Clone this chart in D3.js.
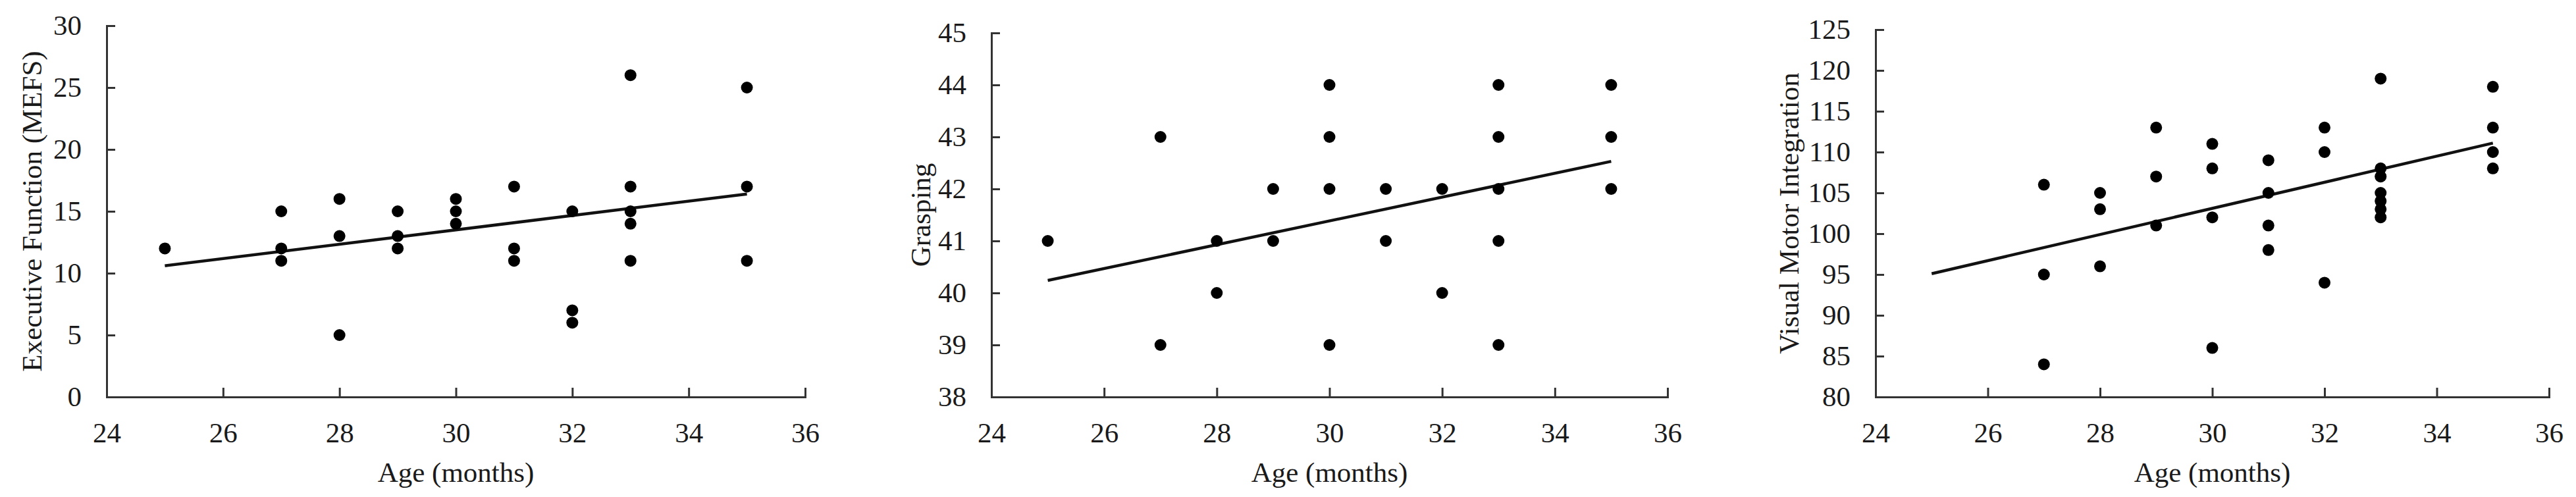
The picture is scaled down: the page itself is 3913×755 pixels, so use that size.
<!DOCTYPE html>
<html>
<head>
<meta charset="utf-8">
<script src="https://cdn.jsdelivr.net/npm/d3@7"></script>
<style>
  body { margin: 0; background: #fff; }
  svg text { font-family: "Liberation Serif", "Times New Roman", serif; fill: #1a1a1a; }
  .axis path, .axis line { stroke: #333; stroke-width: 3; }
  .fit { fill: none; stroke: #111; stroke-width: 4.5; }
</style>
</head>
<body>
<div id="chart"></div>
<script>
// ages shared by the x axis
const ageTicks = [24, 26, 28, 30, 32, 34, 36];
const fitAges = [25, 35];

// panel 1: executive function
const efAge   = [25, 27, 27, 27, 28, 28, 28, 29, 29, 29, 30, 30, 30, 31, 31, 31, 32, 32, 32, 33, 33, 33, 33, 33, 35, 35, 35];
const efScore = [12, 15, 12, 11, 16, 13, 5, 15, 13, 12, 16, 15, 14, 17, 12, 11, 15, 7, 6, 26, 17, 15, 14, 11, 25, 17, 11];
const efFit   = [10.6, 16.4];
const efTicks = [0, 5, 10, 15, 20, 25, 30];

// panel 2: grasping
const grAge   = [25, 27, 27, 28, 28, 29, 29, 30, 30, 30, 30, 31, 31, 32, 32, 33, 33, 33, 33, 33, 35, 35, 35];
const grScore = [41, 43, 39, 41, 40, 42, 41, 44, 43, 42, 39, 42, 41, 42, 40, 44, 43, 42, 41, 39, 44, 43, 42];
const grFit   = [40.24, 42.53];
const grTicks = [38, 39, 40, 41, 42, 43, 44, 45];

// panel 3: visual motor integration
const vmAge   = [27, 27, 27, 28, 28, 28, 29, 29, 29, 30, 30, 30, 30, 31, 31, 31, 31, 32, 32, 32, 33, 33, 33, 33, 33, 33, 33, 35, 35, 35, 35];
const vmScore = [106, 95, 84, 105, 103, 96, 113, 107, 101, 111, 108, 102, 86, 109, 105, 101, 98, 113, 110, 94, 119, 108, 107, 105, 104, 103, 102, 118, 113, 110, 108];
const vmFit   = [95.1, 111.1];
const vmTicks = [80, 85, 90, 95, 100, 105, 110, 115, 120, 125];

const W = 3913, H = 755;
const svg = d3.select("#chart").append("svg")
  .attr("width", W)
  .attr("height", H);

// each panel: plot box in page pixels + its data
const panels = [
  { x0: 162,  x1: 1223, y0: 39, y1: 603, labelX: 48,   title: "Executive Function (MEFS)",
    age: efAge, score: efScore, fit: efFit, ticks: efTicks },
  { x0: 1506, x1: 2533, y0: 50, y1: 603, labelX: 1398, title: "Grasping",
    age: grAge, score: grScore, fit: grFit, ticks: grTicks },
  { x0: 2849, x1: 3872, y0: 45, y1: 603, labelX: 2717, title: "Visual Motor Integration",
    age: vmAge, score: vmScore, fit: vmFit, ticks: vmTicks }
];

panels.forEach(function(p) {
  const x = d3.scaleLinear().domain([24, 36]).range([p.x0, p.x1]);
  const y = d3.scaleLinear()
    .domain([p.ticks[0], p.ticks[p.ticks.length - 1]])
    .range([p.y1, p.y0]);

  const g = svg.append("g");

  // axes, ticks pointing inward like the original
  g.append("g")
    .attr("class", "axis")
    .attr("transform", `translate(0,${p.y1})`)
    .call(d3.axisBottom(x).tickValues(ageTicks).tickFormat(d3.format("d"))
      .tickSize(-14).tickSizeOuter(-14).tickPadding(38))
    .call(s => s.selectAll("text").attr("font-size", 43));

  g.append("g")
    .attr("class", "axis")
    .attr("transform", `translate(${p.x0},0)`)
    .call(d3.axisLeft(y).tickValues(p.ticks).tickFormat(d3.format("d"))
      .tickSize(-13).tickSizeOuter(-13).tickPadding(38))
    .call(s => s.selectAll("text").attr("font-size", 43));

  // trend line
  g.append("path")
    .datum(fitAges.map((a, i) => [a, p.fit[i]]))
    .attr("class", "fit")
    .attr("d", d3.line().x(d => x(d[0])).y(d => y(d[1])));

  // points
  g.selectAll(".dot")
    .data(p.age.map((a, i) => ({ age: a, v: p.score[i] })))
    .enter().append("circle")
    .attr("class", "dot")
    .attr("cx", d => x(d.age))
    .attr("cy", d => y(d.v))
    .attr("r", 9)
    .attr("fill", "#000");

  // axis titles
  g.append("text")
    .attr("x", (p.x0 + p.x1) / 2)
    .attr("y", 717)
    .attr("dy", "0.35em")
    .attr("text-anchor", "middle")
    .attr("font-size", 43)
    .text("Age (months)");

  g.append("text")
    .attr("transform", `translate(${p.labelX},${(p.y0 + p.y1) / 2}) rotate(-90)`)
    .attr("dy", "0.35em")
    .attr("text-anchor", "middle")
    .attr("font-size", 43)
    .text(p.title);
});
</script>
</body>
</html>
